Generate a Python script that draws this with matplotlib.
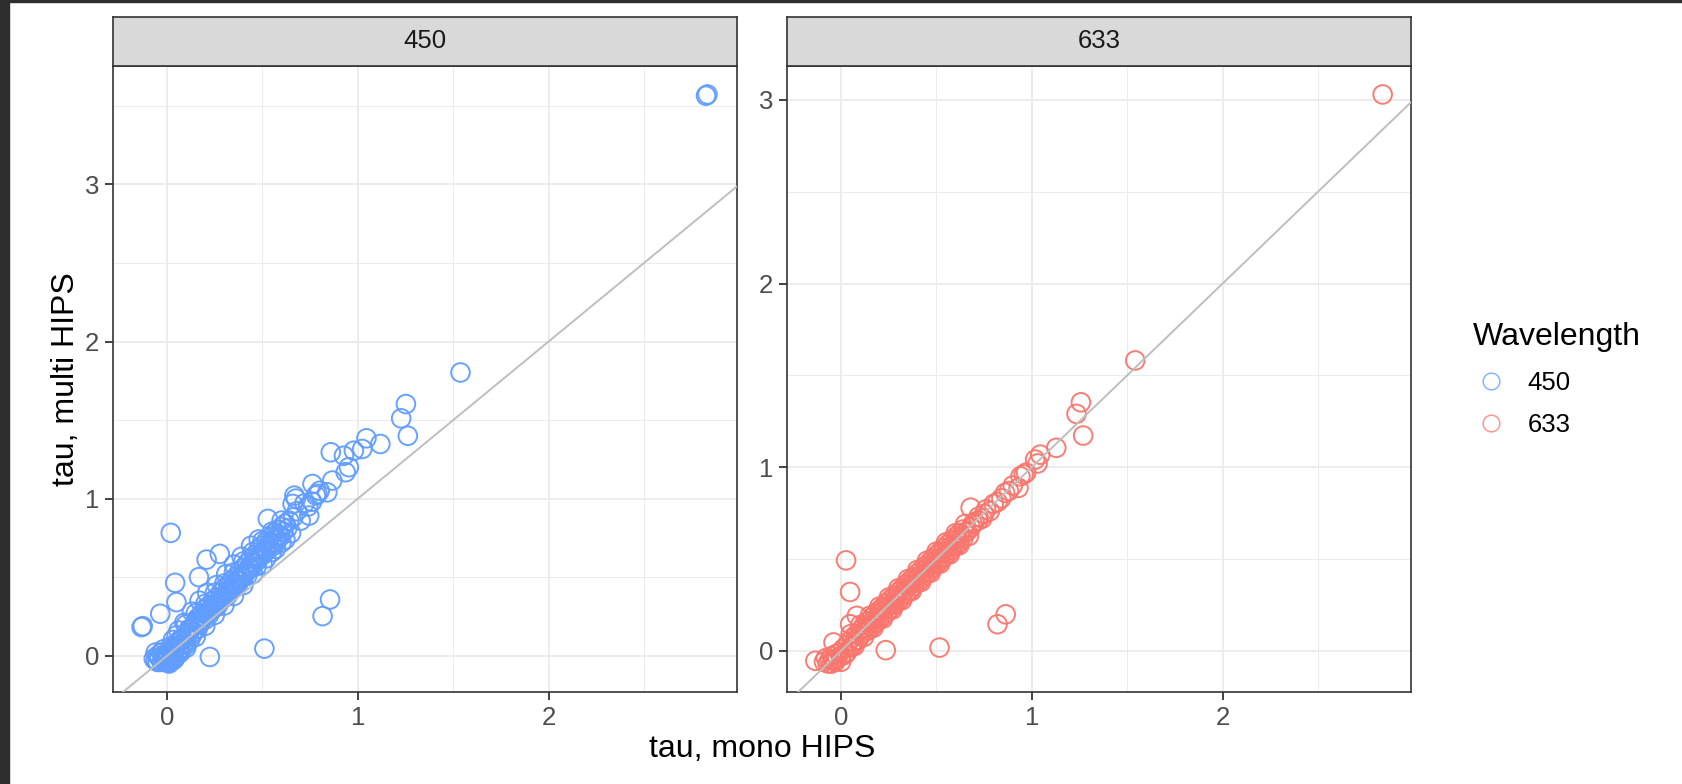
import matplotlib
matplotlib.use("Agg")
import matplotlib.pyplot as plt
from matplotlib.ticker import MultipleLocator
from matplotlib.patches import Rectangle
from matplotlib.lines import Line2D

# ---------------- data ----------------
facets = ["450", "633"]
colors = {"450": "#619CFF", "633": "#F8766D"}

# 450 nm: main band
x450_band = [-0.07, -0.06, -0.05, -0.05, -0.04, -0.03, -0.03, -0.02, -0.01, 0.00, 0.00, 0.01, 0.02, 0.02,
             0.03, 0.03, 0.04, 0.05, 0.05, 0.06, 0.07, 0.08, 0.08, 0.09, 0.10, 0.10,
             0.11, 0.12, 0.12, 0.13, 0.14, 0.14, 0.15, 0.16, 0.16, 0.17, 0.18, 0.18, 0.19, 0.20, 0.20,
             0.21, 0.22, 0.22, 0.23, 0.24, 0.24, 0.25, 0.26, 0.26, 0.27, 0.28, 0.28, 0.29, 0.30, 0.30,
             0.31, 0.32, 0.32, 0.33, 0.34, 0.34, 0.35, 0.36, 0.36, 0.37, 0.38, 0.38, 0.39, 0.40, 0.40,
             0.41, 0.42, 0.42, 0.43, 0.44, 0.44, 0.45, 0.46, 0.46, 0.47, 0.48, 0.48, 0.49, 0.50, 0.50,
             0.51, 0.52, 0.52, 0.53, 0.54, 0.55, 0.56, 0.56, 0.57, 0.58, 0.58, 0.59, 0.60, 0.61, 0.62,
             0.63, 0.64,
             0.03, 0.06, 0.09, 0.13, 0.17, 0.21, 0.26, 0.31, 0.35, 0.39, 0.44, 0.48,
             0.10, 0.15, 0.20, 0.25, 0.30, 0.35, 0.40, 0.45, 0.50, 0.55, 0.60, 0.65,
             0.66, 0.68, 0.70, 0.72, 0.74, 0.76,
             0.115, 0.155, 0.195, 0.235, 0.275, 0.315, 0.355, 0.395, 0.435, 0.475, 0.515, 0.555,
             0.595, 0.035, 0.075, -0.015, 0.005,
             0.05, 0.10, 0.15, 0.20, 0.25, 0.30, 0.35, 0.40, 0.45, 0.50, 0.55, 0.60,
             0.07, 0.12, 0.17, 0.22, 0.27, 0.32, 0.37, 0.42, 0.47, 0.52, 0.57, 0.62,
             -0.06, -0.02, 0.02, 0.06, 0.01, 0.04, 0.07]
y450_band = [-0.02, -0.03, 0.00, -0.04, -0.01, -0.04, 0.02, -0.02, -0.04, -0.03, 0.01, -0.04, -0.02, 0.03,
             -0.03, 0.01, 0.04, 0.00, 0.06, 0.03, 0.07, 0.05, 0.10, 0.08, 0.12, 0.07,
             0.14, 0.10, 0.17, 0.13, 0.19, 0.15, 0.22, 0.17, 0.24, 0.20, 0.27, 0.22, 0.25, 0.30, 0.23,
             0.27, 0.32, 0.26, 0.29, 0.35, 0.30, 0.32, 0.37, 0.31, 0.34, 0.40, 0.35, 0.37, 0.43, 0.37,
             0.40, 0.45, 0.39, 0.42, 0.48, 0.43, 0.45, 0.50, 0.45, 0.48, 0.54, 0.48, 0.51, 0.56, 0.50,
             0.53, 0.59, 0.54, 0.56, 0.62, 0.56, 0.59, 0.64, 0.59, 0.62, 0.68, 0.62, 0.65, 0.70, 0.64,
             0.67, 0.73, 0.67, 0.70, 0.75, 0.72, 0.78, 0.70, 0.75, 0.80, 0.74, 0.77, 0.82, 0.79, 0.84,
             0.81, 0.86,
             0.10, 0.16, 0.21, 0.28, 0.35, 0.40, 0.45, 0.52, 0.58, 0.63, 0.70, 0.74,
             0.05, 0.12, 0.19, 0.26, 0.32, 0.38, 0.45, 0.52, 0.58, 0.66, 0.72, 0.78,
             0.88, 0.92, 0.86, 0.97, 0.95, 0.98,
             0.17, 0.22, 0.27, 0.31, 0.36, 0.41, 0.46, 0.50, 0.56, 0.61, 0.66, 0.71,
             0.76, 0.06, 0.11, 0.00, -0.01,
             0.13, 0.20, 0.27, 0.33, 0.40, 0.46, 0.53, 0.60, 0.66, 0.73, 0.79, 0.86,
             0.10, 0.16, 0.22, 0.28, 0.33, 0.39, 0.45, 0.51, 0.57, 0.62, 0.68, 0.74,
             0.02, 0.04, 0.06, 0.09, -0.05, -0.02, 0.02]
# 450 nm: sparse upper tail
x450_tail = [0.658, 0.667, 0.675, 0.745, 0.762, 0.780, 0.788, 0.800, 0.840, 0.866, 0.858, 0.927, 0.936,
             0.953, 0.979, 1.023, 1.045, 1.118, 1.227, 1.252, 1.262, 1.538, 2.825, 2.833]
y450_tail = [0.966, 1.019, 1.000, 0.892, 1.093, 1.020, 1.030, 1.050, 1.040, 1.115, 1.295, 1.273, 1.168,
             1.200, 1.305, 1.316, 1.384, 1.348, 1.511, 1.602, 1.400, 1.803, 3.565, 3.573]
# 450 nm: outliers
x450_out = [0.019, -0.134, -0.128, -0.036, 0.042, 0.049, 0.224, 0.510, 0.815, 0.854, 0.207, 0.276, 0.167, 0.528]
y450_out = [0.782, 0.182, 0.188, 0.267, 0.464, 0.341, -0.008, 0.045, 0.252, 0.358, 0.612, 0.648, 0.500, 0.871]

# 633 nm: main band
x633_band = [-0.09, -0.08, -0.07, -0.06, -0.05, -0.05, -0.04, -0.03, -0.03, -0.02, -0.01, 0.00, 0.00,
             0.01, 0.02, 0.03, 0.03, 0.04, 0.05, 0.06, 0.06, 0.07, 0.08, 0.09, 0.10, 0.10,
             0.12, 0.12, 0.14, 0.14, 0.16, 0.16, 0.18, 0.18, 0.20, 0.20, 0.22, 0.22, 0.24, 0.24,
             0.26, 0.26, 0.28, 0.28, 0.30, 0.30, 0.32, 0.32, 0.34, 0.34, 0.36, 0.36, 0.38, 0.38,
             0.40, 0.40, 0.42, 0.42, 0.44, 0.44, 0.46, 0.46, 0.48, 0.48, 0.50, 0.50, 0.52, 0.52,
             0.54, 0.54, 0.56, 0.56, 0.58, 0.58, 0.60, 0.60, 0.62, 0.62, 0.64, 0.64, 0.66, 0.68,
             0.11, 0.15, 0.19, 0.23, 0.27, 0.31, 0.35, 0.39, 0.43, 0.47, 0.51, 0.55, 0.59, 0.63,
             0.13, 0.17, 0.21, 0.25, 0.29, 0.33, 0.37, 0.41, 0.45, 0.49, 0.53, 0.57, 0.61, 0.65,
             0.69, 0.72, 0.75,
             0.05, 0.10, 0.15, 0.20, 0.25, 0.30, 0.35, 0.40, 0.45, 0.50, 0.55, 0.60, 0.65,
             0.07, 0.12, 0.17, 0.22, 0.27, 0.32, 0.37, 0.42, 0.47, 0.52, 0.57, 0.62, 0.67]
y633_band = [-0.06, -0.04, -0.07, -0.05, -0.03, -0.07, -0.05, -0.02, -0.06, -0.04, -0.01, -0.03, -0.06,
             0.01, -0.02, 0.03, -0.01, 0.05, 0.02, 0.07, 0.03, 0.05, 0.09, 0.06, 0.11, 0.08,
             0.14, 0.10, 0.16, 0.11, 0.18, 0.13, 0.20, 0.15, 0.22, 0.17, 0.24, 0.19, 0.26, 0.21,
             0.28, 0.23, 0.30, 0.25, 0.32, 0.27, 0.34, 0.29, 0.36, 0.31, 0.38, 0.33, 0.40, 0.35,
             0.42, 0.37, 0.44, 0.39, 0.46, 0.41, 0.48, 0.43, 0.50, 0.45, 0.52, 0.47, 0.54, 0.49,
             0.56, 0.51, 0.58, 0.53, 0.60, 0.55, 0.62, 0.57, 0.64, 0.59, 0.66, 0.61, 0.65, 0.67,
             0.12, 0.14, 0.18, 0.23, 0.26, 0.30, 0.35, 0.38, 0.42, 0.46, 0.50, 0.54, 0.58, 0.62,
             0.125, 0.165, 0.21, 0.245, 0.29, 0.325, 0.37, 0.405, 0.45, 0.485, 0.53, 0.565, 0.61, 0.645,
             0.69, 0.71, 0.745,
             0.09, 0.14, 0.19, 0.24, 0.29, 0.34, 0.39, 0.44, 0.49, 0.54, 0.59, 0.64, 0.69,
             0.025, 0.075, 0.125, 0.175, 0.225, 0.275, 0.325, 0.375, 0.425, 0.475, 0.525, 0.575, 0.625]
# 633 nm: sparse upper tail
x633_tail = [0.679, 0.700, 0.720, 0.740, 0.760, 0.780, 0.800, 0.820, 0.840, 0.860, 0.880, 0.900, 0.930,
             0.940, 0.957, 0.970, 1.017, 1.030, 1.044, 1.128, 1.234, 1.257, 1.269, 1.542, 2.839]
y633_tail = [0.779, 0.700, 0.730, 0.720, 0.770, 0.760, 0.800, 0.810, 0.830, 0.860, 0.870, 0.900, 0.887,
             0.950, 0.960, 0.970, 1.041, 1.020, 1.068, 1.105, 1.290, 1.353, 1.172, 1.581, 3.030]
# 633 nm: outliers
x633_out = [0.026, 0.047, 0.082, 0.047, -0.040, -0.135, 0.234, 0.516, 0.820, 0.863]
y633_out = [0.492, 0.320, 0.190, 0.144, 0.045, -0.055, 0.003, 0.017, 0.144, 0.198]

data = {
    "450": (x450_band + x450_tail + x450_out, y450_band + y450_tail + y450_out),
    "633": (x633_band + x633_tail + x633_out, y633_band + y633_tail + y633_out),
}

# ---------------- style ----------------
plt.rcParams["font.family"] = ["Liberation Sans", "DejaVu Sans"]
W, H = 1683, 784
fig = plt.figure(figsize=(W / 100, H / 100), dpi=100)
fig.patch.set_facecolor("white")

TICK_FS = 18.5
TITLE_FS = 23
GRID = "#EBEBEB"
DARK = "#333333"

def expand(vals):
    lo, hi = min(vals), max(vals)
    r = hi - lo
    return lo - 0.05 * r, hi + 0.05 * r

all_x = data["450"][0] + data["633"][0]
xlim = expand(all_x)

panel_left = [113, 787]
panel_w = 624
panel_top, panel_bot = 66, 692
strip_top = 17

handles = []
for i, f in enumerate(facets):
    x0 = panel_left[i]
    ax = fig.add_axes([x0 / W, (H - panel_bot) / H, panel_w / W, (panel_bot - panel_top) / H])
    xs, ys = data[f]
    ax.set_xlim(*xlim)
    ax.set_ylim(*expand(ys))
    ax.set_axisbelow(True)
    ax.xaxis.set_major_locator(MultipleLocator(1))
    ax.yaxis.set_major_locator(MultipleLocator(1))
    ax.xaxis.set_minor_locator(MultipleLocator(0.5))
    ax.yaxis.set_minor_locator(MultipleLocator(0.5))
    ax.grid(True, which="major", color=GRID, lw=1.3)
    ax.grid(True, which="minor", color=GRID, lw=0.7)
    ax.tick_params(which="major", length=5.8, width=1.3, color=DARK, labelsize=TICK_FS,
                   labelcolor="#4D4D4D", pad=4)
    ax.tick_params(which="minor", length=0)
    for s in ax.spines.values():
        s.set_color(DARK)
        s.set_linewidth(1.2)
    ax.scatter(xs, ys, s=180, facecolors="none", edgecolors=colors[f], linewidths=1.4,
               alpha=0.95, label=f, zorder=2)
    handles.append(Line2D([], [], ls="", marker="o", ms=12, mfc="none", mec=colors[f],
                          mew=1.1, alpha=0.75, label=f))
    ax.axline((0, 0), slope=1, color="#BEBEBE", lw=1.4, zorder=3)

    # strip
    sax = fig.add_axes([x0 / W, (H - panel_top) / H, panel_w / W, (panel_top - strip_top) / H])
    sax.set_facecolor("#D9D9D9")
    sax.set_xticks([]); sax.set_yticks([])
    for s in sax.spines.values():
        s.set_color(DARK)
        s.set_linewidth(1.2)
    sax.text(0.5, 0.5, f, ha="center", va="center", fontsize=TICK_FS, color="#1A1A1A",
             transform=sax.transAxes)

fig.text((panel_left[0] + panel_left[1] + panel_w) / 2 / W, 1 - 749 / H, "tau, mono HIPS",
         ha="center", va="center", fontsize=TITLE_FS, color="black")
fig.text(66 / W, 1 - 379 / H, "tau, multi HIPS", ha="center", va="center", rotation=90,
         fontsize=TITLE_FS, color="black")

leg = fig.legend(handles=handles, title="Wavelength", loc="upper left",
                 bbox_to_anchor=(1460 / W, 1 - 309 / H), frameon=False, fontsize=TICK_FS,
                 title_fontsize=TITLE_FS, borderpad=0, handlelength=1.45, handletextpad=0.67,
                 labelspacing=0.73, alignment="left")

# dark screenshot frame
fig.patches.append(Rectangle((0, 0), 8.5 / W, 1, transform=fig.transFigure, color="#2E2E2E", zorder=10))
fig.patches.append(Rectangle((0, 1 - 2 / H), 1, 2 / H, transform=fig.transFigure, color="#2E2E2E", zorder=10))

fig.savefig("out.png", dpi=100)
